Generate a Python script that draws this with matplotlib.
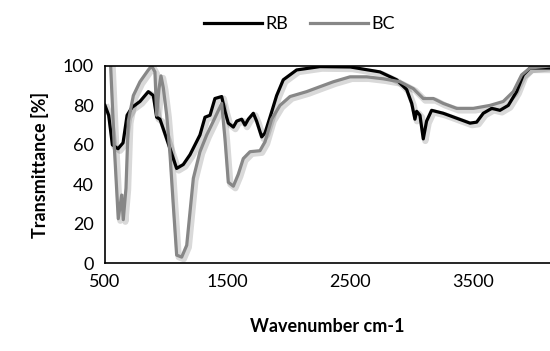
import matplotlib
matplotlib.use("Agg")
import matplotlib.pyplot as plt
import matplotlib.patheffects as pe
from matplotlib.lines import Line2D

plt.rcParams["font.family"] = ["Lato", "DejaVu Sans"]

# FTIR spectra
rb_x = [500, 530, 560, 606, 647, 680, 720, 785, 853, 894, 921, 948, 1003, 1084,
        1138, 1193, 1274, 1315, 1356, 1396, 1451, 1478, 1505, 1546, 1573, 1614,
        1641, 1668, 1709, 1736, 1777, 1804, 1845, 1899, 1953, 2062, 2252, 2500,
        2741, 2877, 2959, 3000, 3026, 3040, 3067, 3094, 3121, 3162, 3257, 3366,
        3475, 3529, 3583, 3652, 3719, 3787, 3855, 3909, 3964, 4127]
rb_y = [80, 75, 60, 58, 61, 75, 79, 82, 87, 85, 74, 73, 63, 48,
        50, 55, 65, 74, 75, 83.5, 84.5, 77, 71, 69, 72, 73,
        70, 73, 76, 72, 64, 66, 74, 85, 93, 98, 99.7, 99.5,
        97, 93, 88, 81, 73, 77, 75, 63, 72, 77.5, 76, 73.5,
        71, 71.5, 76, 78.5, 77.5, 80, 87, 95.5, 99, 99]

bc_x = [546, 575, 608, 636, 649, 671, 690, 731, 785, 853, 880, 907, 921, 940,
        956, 975, 1003, 1030, 1057, 1084, 1125, 1166, 1193, 1220, 1274, 1329,
        1383, 1451, 1478, 1505, 1546, 1586, 1627, 1682, 1763, 1804, 1858, 1926,
        2008, 2144, 2252, 2361, 2497, 2633, 2768, 2904, 3013, 3094, 3176, 3257,
        3366, 3502, 3638, 3746, 3828, 3896, 3964, 4127]
bc_y = [100, 60, 22.5, 34.5, 22, 38, 72, 85, 92, 98, 100, 97, 75, 88.5,
        95, 89, 75, 55, 29, 4, 3, 9, 26, 43, 56.5, 65,
        72, 81, 63, 41, 39, 45, 53, 56.5, 57, 61.5, 73, 80,
        84.5, 87, 89.5, 92, 94.5, 94.5, 93.5, 92, 88.5, 83.5, 83.5, 81,
        78.5, 78.5, 80, 82, 87, 95.5, 99, 100]

x_ticks = [500, 1500, 2500, 3500]
y_ticks = [0, 20, 40, 60, 80, 100]

fig = plt.figure(figsize=(5.5, 3.51), dpi=100)
ax = fig.add_axes([105 / 550, 1 - 263 / 351, 445 / 550, 197 / 351])

shadow = [pe.SimpleLineShadow(offset=(1.5, -1.5), alpha=0.15, linewidth=4.5), pe.Normal()]
ax.plot(rb_x, rb_y, color="black", lw=2.3, path_effects=shadow)
ax.plot(bc_x, bc_y, color="#878787", lw=2.3, path_effects=shadow)

ax.set_xlim(500, 4127)
ax.set_ylim(0, 100)
ax.set_xticks(x_ticks)
ax.set_yticks(y_ticks)
ax.tick_params(length=0, labelsize=13, pad=8)
ax.spines["right"].set_visible(False)
for s in ["left", "top", "bottom"]:
    ax.spines[s].set_linewidth(1.2)
    ax.spines[s].set_color("black")

ax.set_xlabel("Wavenumber cm-1", fontsize=13, fontweight="bold", labelpad=20)
ax.set_ylabel("Transmittance [%]", fontsize=13, fontweight="bold", labelpad=10)

handles = [Line2D([], [], color="black", lw=2.3),
           Line2D([], [], color="#878787", lw=2.3)]
fig.legend(handles, ["RB", "BC"], loc="upper center", bbox_to_anchor=(0.545, 1.0),
           ncol=2, frameon=False, fontsize=13, handlelength=3.2,
           columnspacing=1.2, handletextpad=0.2)

fig.savefig("out.png", dpi=100)
